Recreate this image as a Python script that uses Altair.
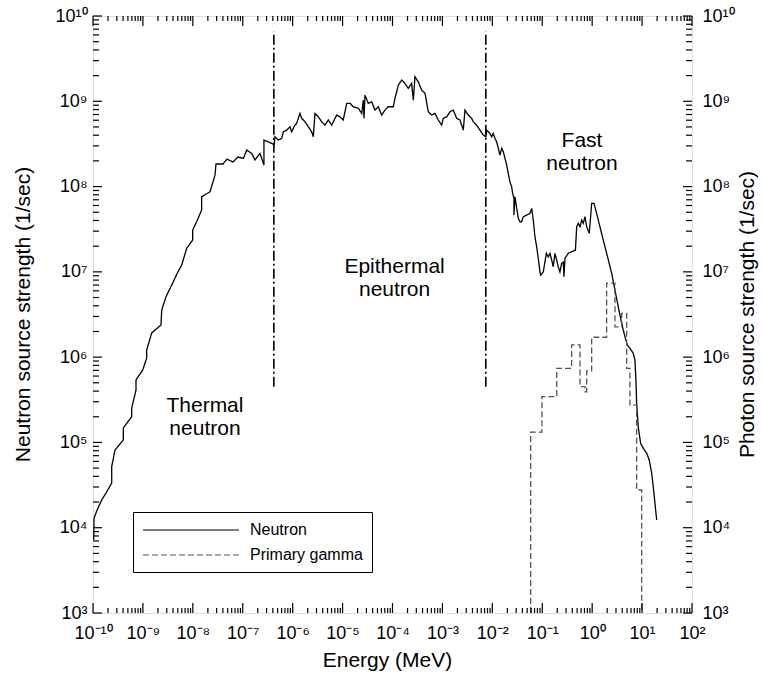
import altair as alt
import pandas as pd

# ---------------- data ----------------
thermal_E = [1.03e-10, 1.05e-10, 1.2e-10, 1.49e-10, 1.82e-10, 2.37e-10, 2.37e-10, 2.76e-10,
             4.05e-10, 4.05e-10, 5.96e-10, 5.96e-10, 7.27e-10, 7.27e-10, 9.9e-10, 1.19e-9,
             1.19e-9, 1.5e-9, 2.3e-9, 2.38e-9, 2.9e-9, 4.06e-9, 4.89e-9, 5.98e-9, 7.53e-9,
             9.93e-9, 9.93e-9, 1.19e-8, 1.5e-8, 1.5e-8, 2.21e-8, 2.78e-8, 2.91e-8]
thermal_S = [7.2e3, 1.29e4, 1.6e4, 2.11e4, 2.55e4, 3.34e4, 5.19e4, 8.15e4,
             1.07e5, 1.48e5, 2.0e5, 2.53e5, 4.11e5, 5.4e5, 7.06e5, 9.75e5,
             1.21e6, 1.92e6, 2.38e6, 3.56e6, 5.11e6, 7.66e6, 9.68e6, 1.2e7, 1.89e7,
             2.36e7, 3.09e7, 3.86e7, 5.31e7, 7.59e7, 8.69e7, 1.36e8, 1.84e8]

epi_E = [4.02e-8, 4.83e-8, 6.37e-8, 8.04e-8, 1.03e-7, 1.20e-7, 1.51e-7, 1.76e-7, 2.21e-7, 2.66e-7,
         2.66e-7, 3.80e-7, 4.23e-7, 4.43e-7, 5.15e-7, 6.03e-7, 6.49e-7, 7.59e-7, 8.83e-7, 9.55e-7,
         1.11e-6, 1.20e-6, 1.40e-6, 1.52e-6, 1.77e-6, 2.06e-6, 2.40e-6, 2.59e-6, 2.80e-6, 3.26e-6,
         3.81e-6, 4.44e-6, 5.18e-6, 6.05e-6, 7.05e-6, 7.62e-6, 8.87e-6, 1.03e-5, 1.21e-5, 1.41e-5,
         1.64e-5, 2.07e-5, 2.42e-5, 2.60e-5, 2.69e-5, 2.81e-5, 3.27e-5, 3.83e-5, 4.46e-5, 5.19e-5,
         6.07e-5, 7.06e-5, 8.22e-5, 1.04e-4, 1.12e-4, 1.31e-4, 1.53e-4, 1.78e-4, 2.07e-4, 2.42e-4,
         2.61e-4, 2.82e-4, 3.28e-4, 3.85e-4, 4.48e-4, 5.21e-4, 6.10e-4, 7.10e-4, 8.26e-4, 9.66e-4,
         1.04e-3, 1.22e-3, 1.42e-3, 1.65e-3, 1.93e-3, 2.25e-3, 2.62e-3, 2.83e-3, 3.30e-3, 3.85e-3,
         4.15e-3, 4.85e-3, 5.65e-3, 6.59e-3, 7.46e-3]
epi_S = [1.84e8, 2.10e8, 1.94e8, 2.22e8, 2.14e8, 2.68e8, 2.45e8, 2.05e8, 2.45e8, 1.79e8,
         3.51e8, 3.21e8, 3.07e8, 3.84e8, 3.51e8, 3.67e8, 4.39e8, 4.59e8, 5.02e8, 4.39e8,
         5.26e8, 5.51e8, 7.21e8, 6.31e8, 5.75e8, 5.02e8, 4.39e8, 3.84e8, 7.21e8, 6.58e8,
         5.75e8, 5.26e8, 6.03e8, 5.26e8, 6.31e8, 6.89e8, 6.58e8, 6.03e8, 9.45e8, 9.45e8,
         8.63e8, 8.26e8, 7.21e8, 1.03e9, 6.31e8, 1.18e9, 9.45e8, 9.87e8, 7.89e8, 8.63e8,
         6.89e8, 7.89e8, 8.63e8, 8.63e8, 1.08e9, 1.55e9, 1.77e9, 1.62e9, 1.42e9, 1.62e9,
         1.03e9, 1.94e9, 1.69e9, 1.35e9, 1.24e9, 7.53e8, 6.89e8, 7.21e8, 6.03e8, 5.26e8,
         6.31e8, 6.58e8, 7.53e8, 7.89e8, 6.31e8, 6.03e8, 4.59e8, 7.89e8, 6.89e8, 6.31e8,
         5.75e8, 5.26e8, 4.59e8, 4.02e8, 3.84e8]

fast_E = [7.71e-3, 8.98e-3, 9.70e-3, 1.04e-2, 1.13e-2, 1.22e-2, 1.32e-2, 1.42e-2, 1.54e-2, 1.66e-2,
          1.79e-2, 1.94e-2, 2.08e-2, 2.25e-2, 2.44e-2, 2.55e-2, 2.71e-2, 2.71e-2, 2.84e-2, 3.08e-2,
          3.31e-2, 3.58e-2, 3.87e-2, 4.17e-2, 4.88e-2, 5.68e-2, 6.14e-2, 6.61e-2, 7.14e-2, 7.73e-2,
          8.32e-2, 8.99e-2, 9.29e-2, 0.105, 0.121, 0.132, 0.143, 0.155, 0.166, 0.180,
          0.195, 0.209, 0.226, 0.245, 0.264, 0.272, 0.285, 0.332, 0.388, 0.462,
          0.490, 0.527, 0.570, 0.617, 0.664, 0.718, 0.776, 0.875, 0.977, 1.09,
          1.23, 1.43, 1.67, 1.95, 2.46, 2.86, 3.33, 3.90, 4.54, 5.05,
          5.71, 6.65, 7.19, 7.53, 7.78, 8.37, 9.35, 10.6, 12.4, 13.9,
          15.6, 17.3, 19.6]
fast_S = [4.59e8, 4.20e8, 3.84e8, 4.20e8, 3.67e8, 3.35e8, 2.81e8, 2.34e8, 2.81e8, 2.56e8,
          2.14e8, 1.79e8, 1.43e8, 1.14e8, 9.95e7, 8.32e7, 7.27e7, 4.63e7, 7.59e7, 5.55e7,
          4.24e7, 3.87e7, 3.87e7, 4.43e7, 4.63e7, 4.85e7, 5.55e7, 4.05e7, 2.58e7, 1.97e7,
          1.44e7, 1.00e7, 9.17e6, 1.00e7, 1.65e7, 1.50e7, 1.65e7, 1.37e7, 1.15e7, 1.65e7,
          1.37e7, 1.15e7, 1.00e7, 1.26e7, 1.30e7, 8.77e6, 1.44e7, 1.65e7, 1.72e7, 1.80e7,
          3.38e7, 3.71e7, 3.38e7, 4.05e7, 3.71e7, 4.43e7, 3.38e7, 2.83e7, 6.35e7, 6.35e7,
          4.85e7, 3.38e7, 2.36e7, 1.65e7, 9.60e6, 6.12e6, 3.90e6, 2.49e6, 1.73e6, 1.39e6,
          1.27e6, 1.11e6, 9.25e5, 5.40e5, 2.87e5, 1.53e5, 9.75e4, 8.53e4, 7.45e4, 6.22e4,
          4.34e4, 2.53e4, 1.23e4]

# primary gamma histogram: bin edges (MeV) and bin values (1/sec)
gamma_edges = [5.86e-2, 9.86e-2, 0.195, 0.388, 0.570, 0.718, 0.776, 0.977, 1.95, 2.86,
               3.90, 4.91, 5.71, 7.78, 9.82]
gamma_values = [1.32e5, 3.44e5, 7.39e5, 1.39e6, 4.50e5, 3.93e5, 6.9e5, 1.71e6, 7.39e6,
                2.27e6, 3.26e6, 7.39e5, 2.74e5, 2.77e4]
gamma_floor = 1e3

series_names = ["Neutron", "Primary gamma"]

# region boundaries (dash-dot lines)
boundary_E = [4.2e-7, 7.4e-3]
boundary_S_low = [4.5e5, 4.5e5]
boundary_S_high = [6.6e9, 6.6e9]

# region labels
region_text = ["Thermal\nneutron", "Epithermal\nneutron", "Fast\nneutron"]
region_E = [1.75e-8, 1.10e-4, 0.625]
region_S = [2.64e5, 1.14e7, 3.41e8]

# axis decades
x_major = [10.0 ** k for k in range(-10, 3)]
y_major = [10.0 ** k for k in range(3, 11)]
x_minor = [m * 10.0 ** k for k in range(-10, 2) for m in range(2, 10)]
y_minor = [m * 10.0 ** k for k in range(3, 10) for m in range(2, 10)]

# ---------------- build tables ----------------
rows = []
nE = thermal_E + epi_E + fast_E
nS = thermal_S + epi_S + fast_S
for i, (e, s) in enumerate(zip(nE, nS)):
    rows.append({"E": e, "S": s, "series": "Neutron", "order": i})
gpts = [(gamma_edges[0], gamma_floor)]
for i, v in enumerate(gamma_values):
    gpts.append((gamma_edges[i], v))
    gpts.append((gamma_edges[i + 1], v))
gpts.append((gamma_edges[-1], gamma_floor))
for i, (e, s) in enumerate(gpts):
    rows.append({"E": e, "S": s, "series": "Primary gamma", "order": i})
df_lines = pd.DataFrame(rows)

df_bound = pd.DataFrame({"E": boundary_E, "S0": boundary_S_low, "S1": boundary_S_high})
df_text = pd.DataFrame({"E": region_E, "S": region_S, "t": region_text})

W, H = 599, 597
FONT = "Liberation Sans"

xscale = alt.Scale(type="log", domain=[1e-10, 1e2], nice=False)
yscale = alt.Scale(type="log", domain=[1e3, 1e10], nice=False)

ex = "round(log(datum.value)/LN10)"
sup = "['⁰','¹','²','³','⁴','⁵','⁶','⁷','⁸','⁹']"
label_expr = f"'10' + ({ex} < 0 ? '⁻' : '') + (abs({ex}) >= 10 ? '¹⁰' : {sup}[abs({ex})])"

common_axis = dict(ticks=False, tickSize=0, domain=False, grid=False, labelFlush=False,
                   labelOverlap=False, labelFontSize=18, labelFont=FONT, labelColor="black",
                   titleFont=FONT, titleFontSize=21, titleFontWeight="normal", titleColor="black",
                   labelExpr=label_expr)

x_axis = alt.Axis(values=x_major, labelPadding=11, orient="bottom", title="Energy (MeV)",
                  titleX=294, titleY=47, titleBaseline="middle", **common_axis)
y_left_axis = alt.Axis(values=y_major, labelPadding=6, orient="left",
                       title="Neutron source strength (1/sec)", titleAngle=270,
                       titleX=-70, titleY=298, titleBaseline="middle", **common_axis)
y_right_axis = alt.Axis(values=y_major, labelPadding=10, orient="right",
                        title="Photon source strength (1/sec)", titleAngle=270,
                        titleX=55, titleY=298, titleBaseline="middle", **common_axis)

legend = alt.Legend(title=None, orient="none", legendX=40, legendY=496,
                    strokeColor="black", fillColor="white", padding=9,
                    symbolType="M-6,0H6", symbolSize=256, symbolStrokeWidth=1.2,
                    symbolOffset=40, labelOffset=50, labelFontSize=16, labelFont=FONT,
                    labelColor="black", rowPadding=8)

lines = alt.Chart(df_lines).mark_line(strokeWidth=1.3).encode(
    x=alt.X("E:Q", scale=xscale, axis=x_axis),
    y=alt.Y("S:Q", scale=yscale, axis=y_left_axis),
    color=alt.Color("series:N", scale=alt.Scale(domain=series_names, range=["black", "#555555"]),
                    legend=legend),
    strokeDash=alt.StrokeDash("series:N", scale=alt.Scale(domain=series_names, range=[[1, 0], [6, 3]]),
                              legend=legend),
    order="order:Q",
)

bounds = alt.Chart(df_bound).mark_rule(color="black", strokeWidth=1.6, strokeDash=[10, 3, 2, 3]).encode(
    x=alt.X("E:Q", scale=xscale, axis=None),
    y=alt.Y("S0:Q", scale=yscale, axis=None),
    y2="S1:Q",
)

texts = alt.Chart(df_text).mark_text(fontSize=21, font=FONT, lineHeight=23, lineBreak="\n",
                                     align="center", baseline="middle", color="black").encode(
    x=alt.X("E:Q", scale=xscale, axis=None),
    y=alt.Y("S:Q", scale=yscale, axis=None),
    text="t:N",
)


def xticks(vals, length, top):
    y0, y1 = (0, length) if top else (H, H - length)
    return alt.Chart(pd.DataFrame({"v": vals})).mark_rule(color="black", strokeWidth=1.2).encode(
        x=alt.X("v:Q", scale=xscale, axis=None), y=alt.value(y0), y2=alt.value(y1))


def yticks(vals, length, right, axis=None):
    x0, x1 = (W, W - length) if right else (0, length)
    return alt.Chart(pd.DataFrame({"v": vals})).mark_rule(color="black", strokeWidth=1.2).encode(
        y=alt.Y("v:Q", scale=yscale, axis=axis), x=alt.value(x0), x2=alt.value(x1))


tick_layers = [
    xticks(x_major, 10, False), xticks(x_minor, 5, False),
    xticks(x_major, 10, True), xticks(x_minor, 5, True),
    yticks(y_major, 9, False), yticks(y_minor, 6, False),
    yticks(y_major, 9, True, y_right_axis), yticks(y_minor, 6, True),
]

chart = alt.layer(lines, bounds, texts, *tick_layers).resolve_axis(
    x="independent", y="independent"
).properties(
    width=W, height=H,
    autosize=alt.AutoSizeParams(type="none"),
    padding={"left": 93, "top": 16, "right": 70, "bottom": 67},
    background="white",
).configure_view(stroke="black", strokeWidth=2).configure_legend(strokeWidth=1.6).configure(font=FONT)

chart.save("out.html", embed_options={"renderer": "svg", "actions": False})
